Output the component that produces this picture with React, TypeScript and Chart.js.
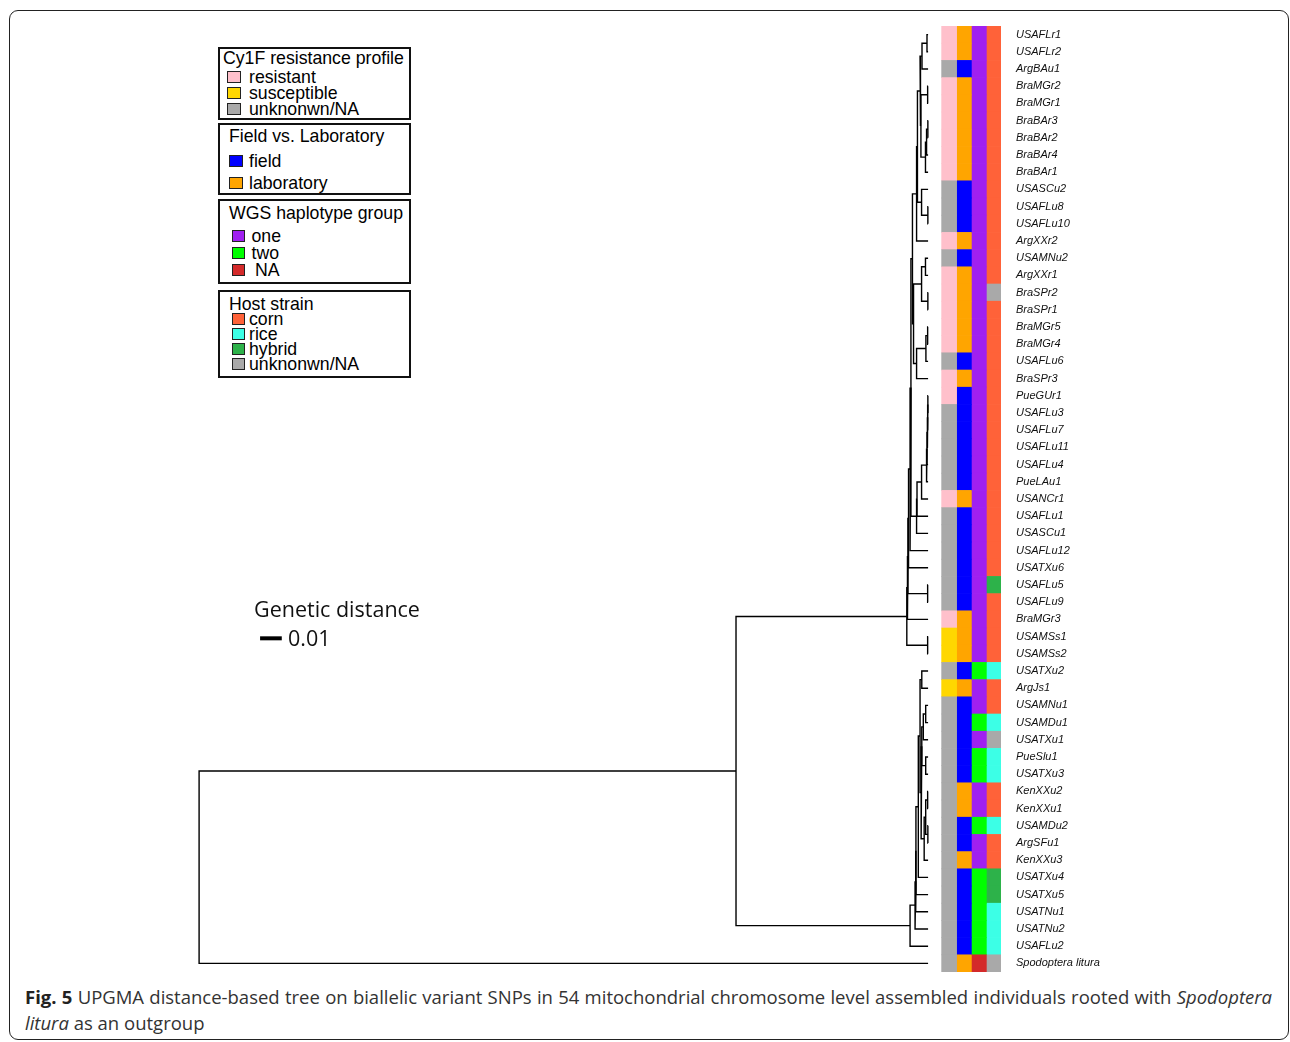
import React, { useEffect, useRef } from 'react';
import { Chart, registerables } from 'chart.js';

Chart.register(...registerables);

// leaves, top to bottom
const LEAVES = [
  'USAFLr1', 'USAFLr2', 'ArgBAu1', 'BraMGr2', 'BraMGr1', 'BraBAr3', 'BraBAr2', 'BraBAr4', 'BraBAr1', 'USASCu2',
  'USAFLu8', 'USAFLu10', 'ArgXXr2', 'USAMNu2', 'ArgXXr1', 'BraSPr2', 'BraSPr1', 'BraMGr5', 'BraMGr4', 'USAFLu6',
  'BraSPr3', 'PueGUr1', 'USAFLu3', 'USAFLu7', 'USAFLu11', 'USAFLu4', 'PueLAu1', 'USANCr1', 'USAFLu1', 'USASCu1',
  'USAFLu12', 'USATXu6', 'USAFLu5', 'USAFLu9', 'BraMGr3', 'USAMSs1', 'USAMSs2', 'USATXu2', 'ArgJs1', 'USAMNu1',
  'USAMDu1', 'USATXu1', 'PueSlu1', 'USATXu3', 'KenXXu2', 'KenXXu1', 'USAMDu2', 'ArgSFu1', 'KenXXu3', 'USATXu4',
  'USATXu5', 'USATNu1', 'USATNu2', 'USAFLu2', 'Spodoptera litura',
];

// R resistant, S susceptible, U unknown
const RESISTANCE = [
  'R', 'R', 'U', 'R', 'R', 'R', 'R', 'R', 'R', 'U',
  'U', 'U', 'R', 'U', 'R', 'R', 'R', 'R', 'R', 'U',
  'R', 'R', 'U', 'U', 'U', 'U', 'U', 'R', 'U', 'U',
  'U', 'U', 'U', 'U', 'R', 'S', 'S', 'U', 'S', 'U',
  'U', 'U', 'U', 'U', 'U', 'U', 'U', 'U', 'U', 'U',
  'U', 'U', 'U', 'U', 'U',
];

// F field, L laboratory
const ORIGIN = [
  'L', 'L', 'F', 'L', 'L', 'L', 'L', 'L', 'L', 'F',
  'F', 'F', 'L', 'F', 'L', 'L', 'L', 'L', 'L', 'F',
  'L', 'F', 'F', 'F', 'F', 'F', 'F', 'L', 'F', 'F',
  'F', 'F', 'F', 'F', 'L', 'L', 'L', 'F', 'L', 'F',
  'F', 'F', 'F', 'F', 'L', 'L', 'F', 'F', 'L', 'F',
  'F', 'F', 'F', 'F', 'L',
];

// 1 one, 2 two, N NA
const HAPLOTYPE = [
  '1', '1', '1', '1', '1', '1', '1', '1', '1', '1',
  '1', '1', '1', '1', '1', '1', '1', '1', '1', '1',
  '1', '1', '1', '1', '1', '1', '1', '1', '1', '1',
  '1', '1', '1', '1', '1', '1', '1', '2', '1', '1',
  '2', '1', '2', '2', '1', '1', '2', '1', '1', '2',
  '2', '2', '2', '2', 'N',
];

// C corn, R rice, H hybrid, U unknown
const HOST = [
  'C', 'C', 'C', 'C', 'C', 'C', 'C', 'C', 'C', 'C',
  'C', 'C', 'C', 'C', 'C', 'U', 'C', 'C', 'C', 'C',
  'C', 'C', 'C', 'C', 'C', 'C', 'C', 'C', 'C', 'C',
  'C', 'C', 'H', 'C', 'C', 'C', 'C', 'R', 'C', 'C',
  'R', 'U', 'R', 'R', 'C', 'C', 'R', 'C', 'C', 'H',
  'H', 'R', 'R', 'R', 'U',
];

// hclust-style merges: negative = leaf (1-based), positive = earlier merge (1-based)
const MERGE_LEFT = [
  -1, 1, -4, -6, 4, 5, 3, 2, -11, -10,
  8, 11, -14, -16, 13, -18, 16, 17, 15, 12,
  -22, 21, 22, 23, 24, 25, 26, 27, 20, 29,
  30, -33, 31, 33, -36, 34, -38, -40, 38, -43,
  39, -45, -47, 42, 44, 41, 37, 47, 48, 49,
  50, 51, 36, 53,
];
const MERGE_RIGHT = [
  -2, -3, -5, -7, -8, -9, 6, 7, -12, 9,
  10, -13, -15, -17, 14, -19, -20, -21, 18, 19,
  -23, -24, -25, -26, -27, -28, -29, -30, 28, -31,
  -32, -34, 32, -35, -37, 35, -39, -41, -42, -44,
  40, -46, -48, 43, -49, 45, 46, -50, -51, -52,
  -53, -54, 52, -55,
];
const MERGE_HEIGHT = [
  0.0005, 0.0028, 0.0002, 0.0001, 0.0007, 0.0012, 0.0033, 0.0037, 0.0001, 0.0030,
  0.0049, 0.0053, 0.0012, 0.0001, 0.0030, 0.0002, 0.0010, 0.0053, 0.0067, 0.0072,
  0.0001, 0.0002, 0.0003, 0.0005, 0.0007, 0.0030, 0.0051, 0.0053, 0.0079, 0.0083,
  0.0090, 0.0002, 0.0093, 0.0095, 0.0002, 0.0098, 0.0029, 0.0011, 0.0022, 0.0011,
  0.0029, 0.0002, 0.0001, 0.0011, 0.0018, 0.0032, 0.0037, 0.0045, 0.0056, 0.0057,
  0.0060, 0.0083, 0.0885, 0.3359,
];

const SCALE_BAR_LEN = 0.01;

const RES_COLORS: Record<string, string> = { R: '#FFC0CB', S: '#FFD700', U: '#A9A9A9' };
const ORIGIN_COLORS: Record<string, string> = { F: '#0000FF', L: '#FFA500' };
const HAP_COLORS: Record<string, string> = { '1': '#A020F0', '2': '#00FF00', N: '#D42A2A' };
const HOST_COLORS: Record<string, string> = { C: '#FF6239', R: '#3CFFE6', H: '#2DB24A', U: '#A9A9A9' };

// x axis in distance units, reversed (tips at 0)
const X_MIN = -0.0336;
const X_MAX = 0.3447;
const HEAT_X = [-0.0097, -0.0165, -0.0234, -0.0302];
const SCALE_BAR_X = 0.3078;
const SCALE_BAR_Y = 35.1;

const SANS = '"Liberation Sans", Arial, sans-serif';
const OPEN = '"Open Sans", sans-serif';

type Item = { label: string; color: string; cy: number; tx?: number };
type Box = { top: number; height: number; title: string; titleX: number; titleCy: number; swX: number; swW: number; textX: number; items: Item[] };

const LEGEND_BOXES: Box[] = [
  {
    top: 47, height: 73, title: 'Cy1F resistance profile', titleX: 223, titleCy: 58, swX: 227, swW: 14, textX: 249,
    items: [
      { label: 'resistant', color: RES_COLORS.R, cy: 77 },
      { label: 'susceptible', color: RES_COLORS.S, cy: 93 },
      { label: 'unknonwn/NA', color: RES_COLORS.U, cy: 108.5 },
    ],
  },
  {
    top: 123, height: 72, title: 'Field vs. Laboratory', titleX: 229, titleCy: 136, swX: 229, swW: 14, textX: 249,
    items: [
      { label: 'field', color: ORIGIN_COLORS.F, cy: 161 },
      { label: 'laboratory', color: ORIGIN_COLORS.L, cy: 183 },
    ],
  },
  {
    top: 199, height: 85, title: 'WGS haplotype group', titleX: 229, titleCy: 213, swX: 232, swW: 13, textX: 251.5,
    items: [
      { label: 'one', color: HAP_COLORS['1'], cy: 235.5 },
      { label: 'two', color: HAP_COLORS['2'], cy: 252.5 },
      { label: 'NA', color: HAP_COLORS.N, cy: 269.5, tx: 255 },
    ],
  },
  {
    top: 290, height: 88, title: 'Host strain', titleX: 229, titleCy: 303.5, swX: 232, swW: 13, textX: 249,
    items: [
      { label: 'corn', color: HOST_COLORS.C, cy: 318.5 },
      { label: 'rice', color: HOST_COLORS.R, cy: 333.5 },
      { label: 'hybrid', color: HOST_COLORS.H, cy: 348.5 },
      { label: 'unknonwn/NA', color: HOST_COLORS.U, cy: 363.5 },
    ],
  },
];

function Legend() {
  const text = (cy: number): React.CSSProperties => ({
    position: 'absolute', top: cy - 10, height: 20, lineHeight: '20px', fontFamily: SANS, fontSize: 17.7, color: '#000', whiteSpace: 'nowrap',
  });
  return (
    <>
      {LEGEND_BOXES.map((b) => (
        <React.Fragment key={b.title}>
          <div style={{ position: 'absolute', left: 218, top: b.top, width: 193, height: b.height, border: '2px solid #111', boxSizing: 'border-box' }} />
          <div style={{ ...text(b.titleCy), left: b.titleX }}>{b.title}</div>
          {b.items.map((it) => (
            <React.Fragment key={it.label + it.cy}>
              <div style={{ position: 'absolute', left: b.swX, top: it.cy - 6, width: b.swW, height: 12, background: it.color, border: '1.3px solid #222', boxSizing: 'border-box' }} />
              <div style={{ ...text(it.cy), left: it.tx ?? b.textX }}>{it.label}</div>
            </React.Fragment>
          ))}
        </React.Fragment>
      ))}
    </>
  );
}

function buildDatasets() {
  const datasets: any[] = [];
  const nodeY: number[] = [];
  const nodeH: number[] = [];
  const pos = (c: number) => (c < 0 ? { y: -c - 1, h: 0 } : { y: nodeY[c - 1], h: nodeH[c - 1] });

  MERGE_LEFT.forEach((l, k) => {
    const a = pos(l);
    const b = pos(MERGE_RIGHT[k]);
    const h = MERGE_HEIGHT[k];
    nodeY[k] = (a.y + b.y) / 2;
    nodeH[k] = h;
    datasets.push({
      type: 'scatter',
      showLine: true,
      data: [{ x: a.h, y: a.y }, { x: h, y: a.y }, { x: h, y: b.y }, { x: b.h, y: b.y }],
      borderColor: '#000',
      borderWidth: 1.4,
      pointRadius: 0,
      tension: 0,
      borderCapStyle: 'butt',
      borderJoinStyle: 'miter',
    });
  });

  // scale bar
  datasets.push({
    type: 'scatter',
    showLine: true,
    data: [{ x: SCALE_BAR_X, y: SCALE_BAR_Y }, { x: SCALE_BAR_X - SCALE_BAR_LEN, y: SCALE_BAR_Y }],
    borderColor: '#000',
    borderWidth: 4,
    pointRadius: 0,
    borderCapStyle: 'butt',
  });

  const columns: [string[], Record<string, string>][] = [
    [RESISTANCE, RES_COLORS],
    [ORIGIN, ORIGIN_COLORS],
    [HAPLOTYPE, HAP_COLORS],
    [HOST, HOST_COLORS],
  ];
  columns.forEach(([codes, colors], k) => {
    datasets.push({
      type: 'bar',
      data: LEAVES.map((_, i) => ({ x: HEAT_X[k], y: [i - 0.5, i + 0.5] })),
      backgroundColor: codes.map((c) => colors[c]),
      borderWidth: 0,
      barThickness: 15,
      grouped: false,
    });
  });
  return datasets;
}

function TreeChart() {
  const canvasRef = useRef<HTMLCanvasElement | null>(null);

  useEffect(() => {
    const canvas = canvasRef.current;
    if (!canvas) return;
    const chart = new Chart(canvas, {
      type: 'scatter',
      data: { datasets: buildDatasets() },
      options: {
        animation: false,
        responsive: true,
        maintainAspectRatio: false,
        events: [],
        layout: { padding: 0 },
        plugins: { legend: { display: false }, tooltip: { enabled: false } },
        scales: {
          x: { type: 'linear', reverse: true, min: X_MIN, max: X_MAX, display: false, offset: false, grid: { offset: false } },
          y: {
            type: 'linear',
            reverse: true,
            position: 'right',
            min: -0.5,
            max: LEAVES.length - 0.5,
            offset: false,
            grid: { display: false, drawTicks: false },
            border: { display: false },
            afterBuildTicks: (s: any) => {
              s.ticks = LEAVES.map((_, i) => ({ value: i }));
            },
            afterFit: (s: any) => {
              s.width = 120;
              s.paddingTop = 0;
              s.paddingBottom = 0;
            },
            ticks: {
              autoSkip: false,
              padding: 15,
              color: '#111',
              font: { family: SANS, size: 11, style: 'italic' },
              callback: (v: any) => LEAVES[v as number] ?? '',
            },
          },
        },
      } as any,
    });
    return () => chart.destroy();
  }, []);

  return (
    <div style={{ position: 'absolute', left: 180, top: 26, width: 941, height: 946 }}>
      <canvas ref={canvasRef} />
    </div>
  );
}

export default function App() {
  return (
    <div style={{ position: 'absolute', left: 0, top: 0, width: 1290, height: 1042, overflow: 'hidden', background: '#fff' }}>
      <div style={{ position: 'absolute', left: 9, top: 10, width: 1280, height: 1030, border: '1.5px solid #222', borderRadius: 9, boxSizing: 'border-box' }} />
      <Legend />
      <TreeChart />
      <div style={{ position: 'absolute', left: 254, top: 596, lineHeight: '26px', fontFamily: OPEN, fontSize: 21.5, color: '#111' }}>Genetic distance</div>
      <div style={{ position: 'absolute', left: 288, top: 625, lineHeight: '26px', fontFamily: OPEN, fontSize: 21.5, color: '#111' }}>0.01</div>
      <div style={{ position: 'absolute', left: 25, top: 984, width: 1247, lineHeight: '26px', fontFamily: OPEN, fontSize: 18.5, color: '#333', textAlign: 'justify', textAlignLast: 'justify' }}>
        <b style={{ color: '#222' }}>Fig. 5</b> UPGMA distance-based tree on biallelic variant SNPs in 54 mitochondrial chromosome level assembled individuals rooted with <i>Spodoptera</i>
      </div>
      <div style={{ position: 'absolute', left: 25, top: 1010, lineHeight: '26px', fontFamily: OPEN, fontSize: 18.5, color: '#333' }}>
        <i>litura</i> as an outgroup
      </div>
    </div>
  );
}
